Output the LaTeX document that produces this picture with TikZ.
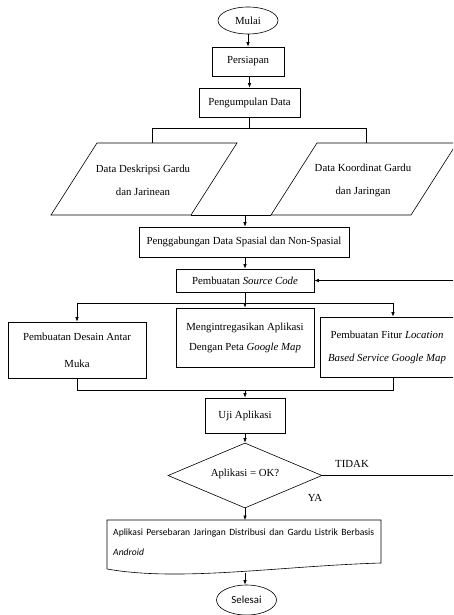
\documentclass[tikz,border=0pt]{standalone}
\usepackage{fontspec}
\setmainfont{Liberation Serif}
\newfontfamily\calib{Carlito}
\usetikzlibrary{shapes.geometric,arrows.meta}
\begin{document}
\begin{tikzpicture}[x=1pt,y=-1pt,
  box/.style={draw, line width=0.6pt, inner sep=0pt, align=center, font=\fontsize{10.8}{12}\selectfont},
  txt/.style={inner sep=0pt, align=center, font=\fontsize{10.8}{12}\selectfont},
  arr/.style={-{Latex[length=4.5pt,width=3.5pt]}, line width=0.6pt},
  ln/.style={line width=0.6pt}]
\useasboundingbox (0,0) rectangle (453,615);
\clip (0,0) rectangle (453,615);

% start
\node[box, ellipse, minimum width=60, minimum height=27] (mulai) at (248,20.5) {Mulai};
\node[box, minimum width=72, minimum height=29] (persiapan) at (248,61.5) {Persiapan};
\node[box, minimum width=101, minimum height=29] (kumpul) at (249.5,102.5) {Pengumpulan Data};
\draw[arr] (mulai.south) -- (persiapan.north);
\draw[arr] (persiapan.south -| kumpul.north) -- (kumpul.north);

% split to data
\coordinate (k1) at (249.5,128);
\coordinate (kl) at (152,128);
\coordinate (kr) at (366,128);
\draw[ln] (kumpul.south) -- (k1);
\draw[ln] (kl) -- (kr);

% parallelograms
\coordinate (dl1) at (97,143);  \coordinate (dl2) at (237,143);
\coordinate (dl3) at (191,215); \coordinate (dl4) at (51,215);
\coordinate (dr1) at (317,143); \coordinate (dr2) at (457,143);
\coordinate (dr3) at (411,215); \coordinate (dr4) at (271,215);
\draw[ln] (dl1) -- (dl2) -- (dl3) -- (dl4) -- cycle;
\draw[ln] (dr1) -- (dr2) -- (dr3) -- (dr4) -- cycle;
\node[txt, font=\fontsize{10.8}{23}\selectfont] (dl) at (143,180.5) {Data Deskripsi Gardu\\dan Jarinean};
\node[txt, font=\fontsize{10.8}{23}\selectfont] (dr) at (363,180.5) {Data Koordinat Gardu\\dan Jaringan};
\draw[ln] (kl) -- (kl |- dl1);
\draw[ln] (kr) -- (kr |- dr1);
\draw[ln] (dl3) -- (dr4);
\coordinate (mj) at (245,215);

% merge
\node[box, minimum width=210, minimum height=30] (gabung) at (244,242) {Penggabungan Data Spasial dan Non-Spasial};
\node[box, minimum width=138, minimum height=23] (source) at (245,280.5) {Pembuatan \textit{Source Code}};
\draw[arr] (mj) -- (mj |- gabung.north);
\draw[arr] (source.north |- gabung.south) -- (source.north);

% three tasks
\coordinate (s1) at (245,303);
\coordinate (bl) at (77,303);
\coordinate (br) at (393,303);
\node[box, minimum width=138, minimum height=56, font=\fontsize{10.8}{27}\selectfont] (desain) at (77,350) {Pembuatan Desain Antar\\Muka};
\node[box, minimum width=138, minimum height=59, font=\fontsize{10.8}{20}\selectfont] (integ) at (245,337.5) {Mengintregasikan Aplikasi\\Dengan Peta \textit{Google Map}};
\node[box, minimum width=140, minimum height=60, font=\fontsize{10.8}{23}\selectfont] (fitur) at (390,347) {\hspace*{-6pt}Pembuatan Fitur \textit{Location}\\\hspace*{-6pt}\textit{Based Service Google Map}};
\draw[ln] (source.south) -- (s1);
\draw[ln] (bl) -- (br);
\draw[arr] (bl) -- (desain.north);
\draw[arr] (s1) -- (integ.north);
\draw[arr] (br) -- (br |- fitur.north);

\coordinate (ml) at (77,390);
\coordinate (mr) at (393,390);
\coordinate (mm) at (245,390);
\draw[ln] (desain.south) -- (ml) -- (mr) -- (mr |- fitur.south);

\node[box, minimum width=80, minimum height=35] (uji) at (245,415.5) {Uji Aplikasi};
\draw[arr] (mm) -- (uji.north);

% decision
\node[box, diamond, aspect=2.37, minimum width=154, minimum height=65] (ok) at (245,475.5) {\raisebox{6pt}{Aplikasi = OK?}};
\draw[arr] (uji.south) -- (ok.north);
\node[txt] (tidak) at (352,464) {TIDAK};
\node[txt] (ya) at (315,498) {YA};
\coordinate (t1) at (460,475.5);
\coordinate (t2) at (460,280.5);
\draw[arr] (ok.east) -- (t1) -- (t2) -- (source.east);

% document
\coordinate (d1) at (107,520); \coordinate (d2) at (381,520);
\coordinate (d3) at (381,563); \coordinate (d4) at (107,569);
\draw[ln] (d4) -- (d1) -- (d2) -- (d3) .. controls (280,566) and (180,582) .. (d4);
\node[anchor=north west, inner sep=0pt, text width=261pt, align=justify,
      font=\calib\fontsize{9.6}{20}\selectfont] (doc) at (113,528.5)
      {Aplikasi Persebaran Jaringan Distribusi dan Gardu Listrik Berbasis\linebreak \textit{Android}};
\draw[arr] (ok.south) -- (ok.south |- d1);
\coordinate (dbot) at (245,573);

\node[box, ellipse, minimum width=60, minimum height=30, font=\calib\fontsize{10.8}{12}\selectfont] (selesai) at (246.5,600) {Selesai};
\draw[arr] (dbot) -- (dbot |- selesai.north);
\end{tikzpicture}
\end{document}
